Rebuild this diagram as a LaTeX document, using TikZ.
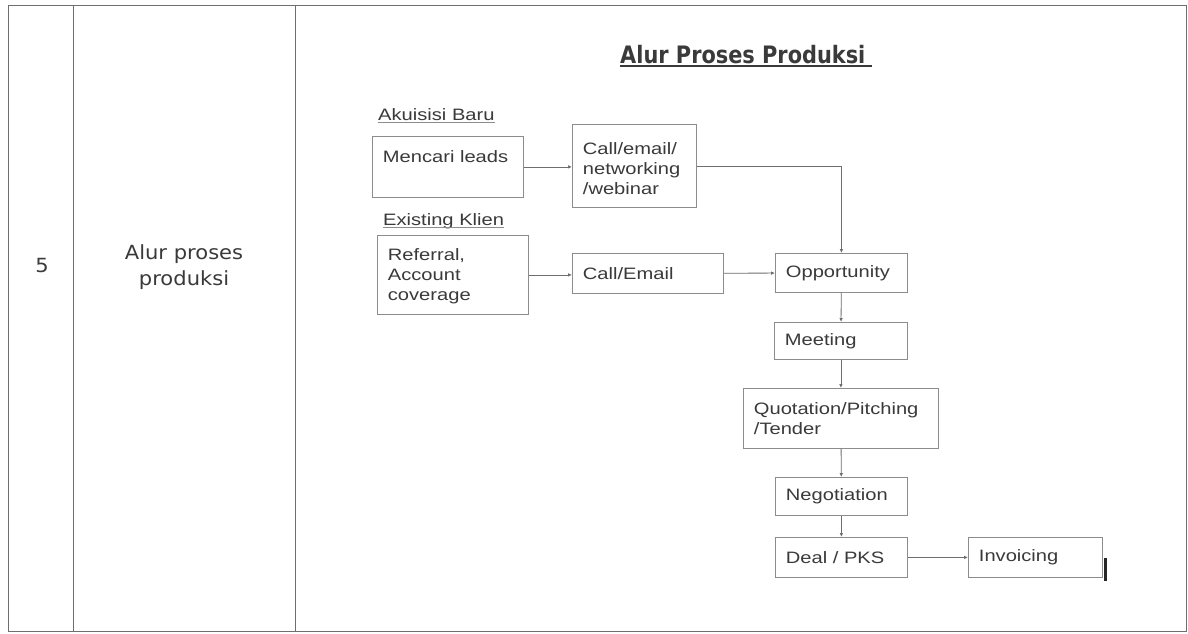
\documentclass[tikz,border=0pt]{standalone}
\usepackage{fontspec}
\setmainfont{DejaVu Sans}
\newfontfamily\dfont[FakeStretch=1.22]{Liberation Sans}
\newfontfamily\tfont[FakeStretch=1.08]{DejaVu Sans}
\newfontfamily\hfont[FakeStretch=0.87]{DejaVu Sans}
\usetikzlibrary{arrows.meta}
\definecolor{ink}{HTML}{3A3A3A}
\definecolor{boxline}{HTML}{8C8C8C}
\definecolor{rulecol}{HTML}{6E6E6E}
\newcommand\bx[4]{\parbox[c][#2pt][#3]{#1pt}{\leftskip=10.5pt\rightskip=0pt plus 1fil\relax #4}}
\begin{document}
\begin{tikzpicture}[x=1pt,y=-1pt,
  dbox/.style={draw=boxline, line width=0.8pt, inner sep=0pt, anchor=north west, text=ink,
    font=\dfont\fontsize{16.5}{20}\selectfont},
  lbl/.style={inner sep=0pt, anchor=base west, text=ink, font=\dfont\fontsize{16.5}{20}\selectfont},
  flow/.style={draw=rulecol, line width=0.8pt, -{Latex[length=4pt,width=3.6pt]}},
  tline/.style={draw=rulecol, line width=0.9pt},
  uline/.style={draw=boxline, line width=0.8pt}]
\useasboundingbox (0,0) rectangle (1188,633);
\fill[white] (0,0) rectangle (1188,633);

% table
\draw[tline] (8,5) rectangle (1186,631);
\draw[tline] (73,5) -- (73,631);
\draw[tline] (295,5) -- (295,631);

\node[font=\tfont\fontsize{19.5}{26}\selectfont, text=ink, anchor=base, inner sep=0pt] (num) at (42,272) {5};
\node[font=\tfont\fontsize{19.5}{26}\selectfont, text=ink, align=center, inner sep=0pt] (rowlab) at (184,267) {Alur proses\\produksi};

% title
\node[font=\hfont\bfseries\fontsize{24}{28}\selectfont, text=ink, anchor=base west, inner sep=0pt] (title) at (620,63) {Alur Proses Produksi};
\draw[ink, line width=1.3pt] ([yshift=-3pt]title.base west) -- ([xshift=6pt,yshift=-3pt]title.base east);

% section labels
\node[lbl] (akuisisi) at (378,120) {Akuisisi Baru};
\draw[uline] ([yshift=-2pt]akuisisi.base west) -- ([yshift=-2pt]akuisisi.base east);
\node[lbl] (existing) at (383,225) {Existing Klien};
\draw[uline] ([yshift=-2pt]existing.base west) -- ([yshift=-2pt]existing.base east);

% boxes
\node[dbox] (mencari) at (372,136) {\bx{151}{61}{t}{\vspace*{14pt}Mencari leads}};
\node[dbox] (call1) at (572,124) {\bx{124}{83}{t}{\vspace*{18pt}Call/email/\\networking\\/webinar}};
\node[dbox] (referral) at (377,235) {\bx{151}{79}{t}{\vspace*{13pt}Referral,\\Account\\coverage}};
\node[dbox] (callE) at (572,253) {\bx{151}{40}{c}{Call/Email}};
\node[dbox] (opp) at (775,253) {\bx{132}{39}{c}{Opportunity}};
\node[dbox] (meet) at (774,322) {\bx{133}{37}{c}{Meeting}};
\node[dbox] (quot) at (743,388) {\bx{195}{60}{c}{Quotation/Pitching\\/Tender}};
\node[dbox] (nego) at (775,477) {\bx{132}{38}{c}{Negotiation}};
\node[dbox] (deal) at (775,537) {\bx{132}{40}{c}{Deal / PKS}};
\node[dbox] (invo) at (968,537) {\bx{134}{40}{c}{Invoicing}};

% connectors
\draw[flow] (mencari.east) -- (mencari.east -| call1.west);
\draw[flow] (call1.east) -| (opp.north);
\draw[flow] (referral.east) -- (referral.east -| callE.west);
\draw[flow] (callE) -- (opp);
\draw[flow] (opp) -- (meet);
\draw[flow] (meet) -- (quot);
\draw[flow] (quot) -- (nego);
\draw[flow] (nego) -- (deal);
\draw[flow] (deal) -- (invo);

% scan mark
\fill[black!85] (1104,558) rectangle (1106.5,581);
\end{tikzpicture}
\end{document}
